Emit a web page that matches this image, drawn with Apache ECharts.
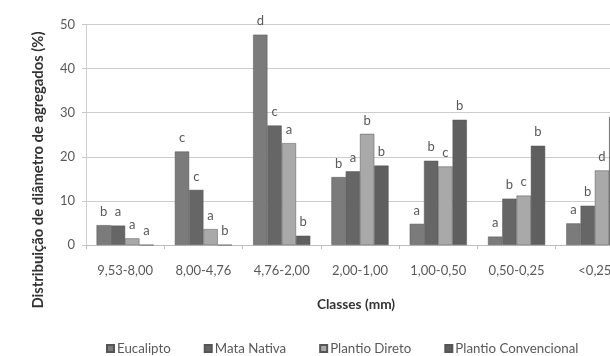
<!DOCTYPE html>
<html>
<head>
<meta charset="utf-8">
<script src="https://cdn.jsdelivr.net/npm/echarts@6/dist/echarts.min.js"></script>
<style>
html, body { margin: 0; padding: 0; overflow: hidden; background: #fff; width: 610px; height: 356px; }
#chart { width: 660px; height: 356px; }
</style>
</head>
<body>
<div id="chart"></div>
<script>
const categories = ['9,53-8,00', '8,00-4,76', '4,76-2,00', '2,00-1,00', '1,00-0,50', '0,50-0,25', '<0,25'];
const seriesNames = ['Eucalipto', 'Mata Nativa', 'Plantio Direto', 'Plantio Convencional'];
const eucalipto = [4.5, 21.2, 47.7, 15.4, 4.8, 1.9, 4.9];
const mataNativa = [4.4, 12.5, 27.1, 16.7, 19.1, 10.5, 8.9];
const plantioDireto = [1.5, 3.6, 23.1, 25.2, 17.8, 11.2, 16.9];
const plantioConvencional = [0, 0, 2.1, 18.0, 28.4, 22.5, 29.0];
const eucaliptoLetters = ['b', 'c', 'd', 'b', 'a', 'a', 'a'];
const mataNativaLetters = ['a', 'c', 'c', 'a', 'b', 'b', 'b'];
const plantioDiretoLetters = ['a', 'a', 'a', 'b', 'c', 'c', 'd'];
const plantioConvencionalLetters = ['a', 'b', 'b', 'b', 'b', 'b', ''];
const yTicks = [0, 10, 20, 30, 40, 50];

const colors = ['#7b7b7b', '#666666', '#a9a9a9', '#5f5f5f'];
const values = [eucalipto, mataNativa, plantioDireto, plantioConvencional];
const letters = [eucaliptoLetters, mataNativaLetters, plantioDiretoLetters, plantioConvencionalLetters];
const FONT = 'Lato';
const TXT = '#595959';

const chart = echarts.init(document.getElementById('chart'), null, { renderer: 'canvas' });
chart.setOption({
  animation: false,
  backgroundColor: '#ffffff',
  textStyle: { fontFamily: FONT },
  grid: { left: 86, right: 26, top: 24.5, bottom: 111, containLabel: false },
  legend: {
    left: 106, top: 342, padding: 0,
    itemWidth: 7, itemHeight: 7, itemGap: 33,
    icon: 'rect',
    textStyle: { fontFamily: FONT, fontSize: 13.3, color: TXT, padding: [0, 0, 0, -2] },
    data: seriesNames
  },
  xAxis: {
    type: 'category',
    data: categories,
    axisLine: { lineStyle: { color: '#bdbdbd', width: 1 } },
    axisTick: { show: true, length: 4, lineStyle: { color: '#bdbdbd' } },
    axisLabel: { color: TXT, fontFamily: FONT, fontSize: 13, margin: 19 }
  },
  yAxis: {
    type: 'value',
    min: yTicks[0], max: yTicks[yTicks.length - 1], interval: 10,
    axisLine: { show: true, lineStyle: { color: '#d0d0d0' } },
    axisTick: { show: true, length: 4, lineStyle: { color: '#c8c8c8' } },
    axisLabel: { color: TXT, fontFamily: FONT, fontSize: 13, margin: 11 },
    splitLine: { lineStyle: { color: '#cdcdcd', width: 1 } }
  },
  graphic: [
    {
      type: 'text', x: 38, y: 170, rotation: Math.PI / 2,
      style: { text: 'Distribuição de diâmetro de agregados (%)', fill: '#333', font: 'bold 14.8px Lato', align: 'center', verticalAlign: 'middle' }
    },
    {
      type: 'text', x: 356, y: 305,
      style: { text: 'Classes (mm)', fill: '#333', font: 'bold 13.7px Lato', align: 'center', verticalAlign: 'middle' }
    }
  ],
  series: seriesNames.map((name, i) => ({
    name: name,
    type: 'bar',
    data: values[i],
    barGap: '0%',
    barCategoryGap: '27%',
    itemStyle: { color: colors[i], borderColor: '#555555', borderWidth: 0.5 },
    label: {
      show: true, position: 'top', distance: 7,
      color: TXT, fontFamily: FONT, fontSize: 13,
      formatter: p => letters[i][p.dataIndex]
    }
  }))
});
</script>
</body>
</html>
